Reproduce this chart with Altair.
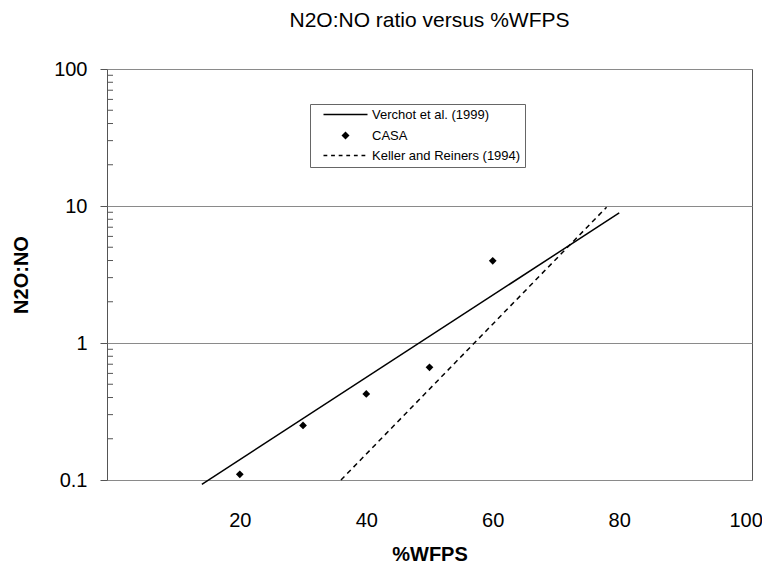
import altair as alt
import pandas as pd

# ---- data ----
series_names = ["Verchot et al. (1999)", "CASA", "Keller and Reiners (1994)"]

casa_wfps = [20, 30, 40, 50, 60]
casa_ratio = [0.11, 0.25, 0.425, 0.665, 3.98]

verchot_wfps = [14, 80]
verchot_ratio = [0.093, 8.9]

keller_wfps = [36, 78]
keller_ratio = [0.1, 9.8]

x_tick_values = [20, 40, 60, 80, 100]
y_major_ticks = [0.1, 1, 10, 100]
y_minor_ticks = [0.2, 0.3, 0.4, 0.5, 0.6, 0.7, 0.8, 0.9,
                 2, 3, 4, 5, 6, 7, 8, 9,
                 20, 30, 40, 50, 60, 70, 80, 90]

FONT = "Liberation Sans"

casa_df = pd.DataFrame({"wfps": casa_wfps, "ratio": casa_ratio, "series": "CASA"})
verchot_df = pd.DataFrame({"wfps": verchot_wfps, "ratio": verchot_ratio})
keller_df = pd.DataFrame({"wfps": keller_wfps, "ratio": keller_ratio})
minor_df = pd.DataFrame({"ratio": y_minor_ticks})

x_enc = alt.X(
    "wfps:Q",
    scale=alt.Scale(domain=[-1, 101], nice=False, zero=False),
    axis=alt.Axis(
        values=x_tick_values, ticks=False, domain=False, grid=False,
        labelFontSize=20, labelFont=FONT, labelColor="black", labelPadding=30,
        title="%WFPS", titleFontSize=20, titleFont=FONT, titleFontWeight="bold",
        titleColor="black", titlePadding=14,
    ),
)
y_enc = alt.Y(
    "ratio:Q",
    scale=alt.Scale(type="log", domain=[0.1, 100], nice=False),
    axis=alt.Axis(
        values=y_major_ticks, format="~g", tickSize=7, tickColor="#555",
        domain=False, grid=True, gridColor="#8a8a8a", gridWidth=1,
        labelFontSize=20, labelFont=FONT, labelColor="black", labelPadding=13,
        title="N2O:NO", titleFontSize=20, titleFont=FONT, titleFontWeight="bold",
        titleColor="black", titlePadding=22,
    ),
)

# legend symbol shapes (filled paths, in Vega's unit symbol space)
solid_path = "M-5.5,-0.16L5.5,-0.16L5.5,0.16L-5.5,0.16Z"
dash_path = "".join(
    f"M{a:.2f},-0.16L{a + 0.95:.2f},-0.16L{a + 0.95:.2f},0.16L{a:.2f},0.16Z"
    for a in (-5.5, -3.6, -1.7, 0.2, 2.1, 4.0)
)
diamond_path = "M0,-1L1,0L0,1L-1,0Z"

minor_ticks = alt.Chart(minor_df).mark_rule(color="#555", strokeWidth=1).encode(
    y=y_enc, x=alt.value(0), x2=alt.value(6)
)

verchot = alt.Chart(verchot_df).mark_line(color="black", strokeWidth=1.5).encode(
    x=x_enc, y=y_enc
)
keller = alt.Chart(keller_df).mark_line(color="black", strokeWidth=1.5, strokeDash=[5, 4]).encode(
    x=x_enc, y=y_enc
)

points = alt.Chart(casa_df).mark_point(filled=True, color="black", size=60, opacity=1).encode(
    x=x_enc,
    y=y_enc,
    shape=alt.Shape(
        "series:N",
        scale=alt.Scale(domain=series_names, range=[solid_path, diamond_path, dash_path]),
        legend=alt.Legend(title=None),
    ),
)

chart = (
    alt.layer(minor_ticks, verchot, keller, points)
    .properties(
        width=645,
        height=411,
        title=alt.Title(
            "N2O:NO ratio versus %WFPS", fontSize=21, font=FONT, fontWeight="normal",
            color="black", anchor="middle", offset=28,
        ),
        padding={"left": 99, "top": 61, "right": 10, "bottom": 84},
        autosize=alt.AutoSizeParams(type="none"),
    )
    .configure_view(stroke="#555", strokeWidth=1)
    .configure_legend(
        orient="none", legendX=203, legendY=35,
        strokeColor="#666", fillColor="white", padding=4, cornerRadius=0,
        labelFont=FONT, labelFontSize=13, labelColor="black",
        symbolSize=64, symbolFillColor="black",
        symbolOffset=25, labelOffset=20, rowPadding=6,
    )
)

chart.save("out.html", embed_options={"renderer": "svg", "actions": False})
